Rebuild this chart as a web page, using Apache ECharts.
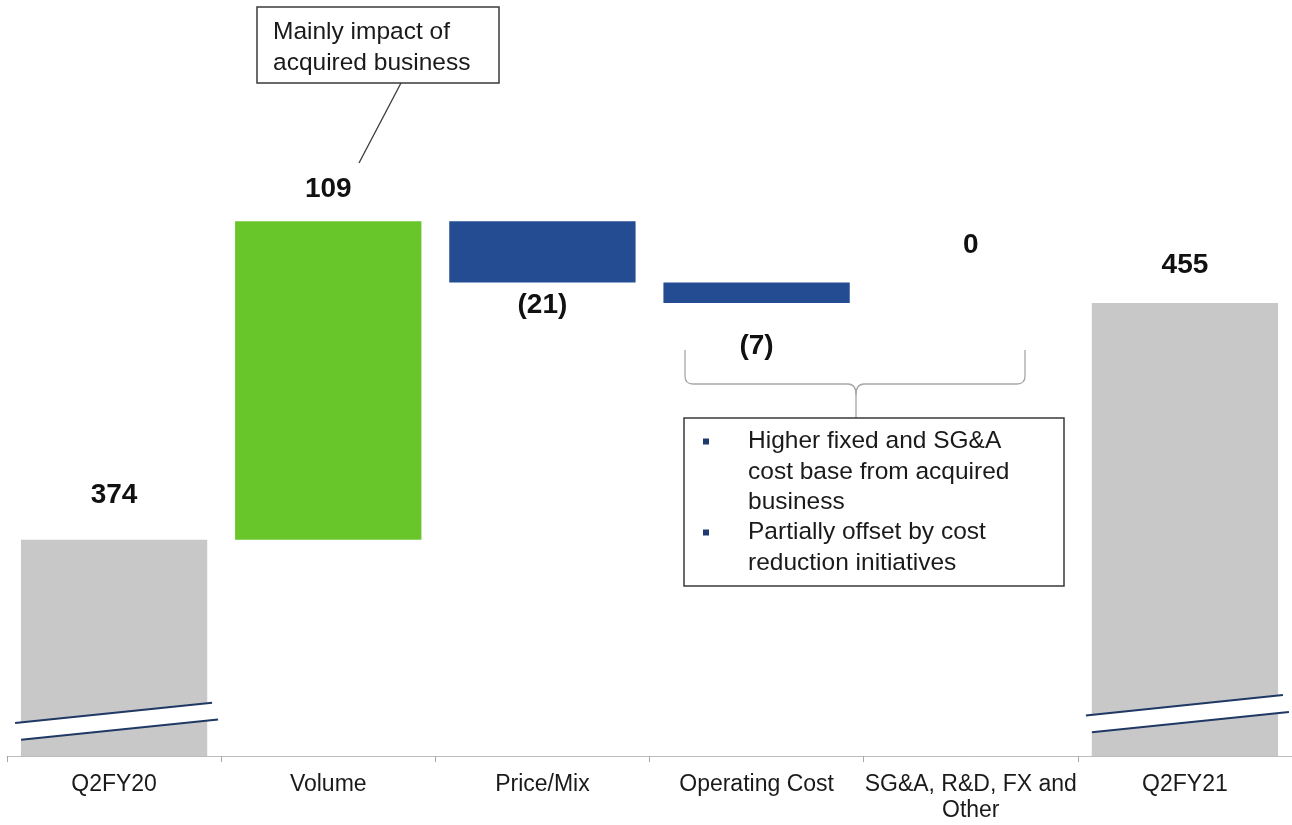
<!DOCTYPE html>
<html>
<head>
<meta charset="utf-8">
<script src="https://cdn.jsdelivr.net/npm/echarts@6/dist/echarts.min.js"></script>
<style>
  html, body { margin: 0; padding: 0; background: #ffffff; }
  #chart { width: 1292px; height: 825px; }
</style>
</head>
<body>
<div id="chart"></div>
<script>
// Bridge from Q2FY20 to Q2FY21
const categories = ['Q2FY20', 'Volume', 'Price/Mix', 'Operating Cost', 'SG&A, R&D, FX and\nOther', 'Q2FY21'];
const openingTotal = 374;
const bridgeChanges = [109, -21, -7, 0];
const closingTotal = 455;

// Value axis is cut below this level (break marks on the total bars)
const axisMin = 300;
const axisMax = 520;

const FONT = '"Liberation Sans", Arial, Helvetica, sans-serif';
const COLORS = { total: '#c8c8c8', up: '#68c62a', down: '#234c93', flat: '#234c93' };

// Waterfall: an invisible base bar carries each visible step
const baseVals = [0];
const stepVals = [openingTotal];
const kinds = ['total'];
const shownVals = [openingTotal];
let running = openingTotal;
bridgeChanges.forEach(c => {
  const next = running + c;
  baseVals.push(Math.min(running, next));
  stepVals.push(Math.abs(c));
  kinds.push(c > 0 ? 'up' : (c < 0 ? 'down' : 'flat'));
  shownVals.push(c);
  running = next;
});
baseVals.push(0);
stepVals.push(closingTotal);
kinds.push('total');
shownVals.push(closingTotal);

// spacing between each bar end and its value label
const labelGap = [29, 17, 8, 28, 43, 23];

const chart = echarts.init(document.getElementById('chart'));

chart.setOption({
  animation: false,
  backgroundColor: '#ffffff',
  grid: { left: 7, width: 1287, top: 113, bottom: 69, containLabel: false },
  xAxis: {
    type: 'category',
    data: categories,
    axisLine: { show: true, lineStyle: { color: '#bcbcbc', width: 1 } },
    axisTick: { show: true, length: 6, lineStyle: { color: '#a8a8a8' } },
    axisLabel: {
      interval: 0,
      margin: 16,
      color: '#1a1a1a',
      fontFamily: FONT,
      fontSize: 23,
      lineHeight: 26,
      align: 'center'
    }
  },
  yAxis: {
    type: 'value',
    min: axisMin,
    max: axisMax,
    show: false,
    splitLine: { show: false }
  },
  series: [
    {
      type: 'bar',
      stack: 'bridge',
      silent: true,
      barCategoryGap: '13%',
      itemStyle: { color: 'rgba(0,0,0,0)' },
      data: baseVals
    },
    {
      type: 'bar',
      stack: 'bridge',
      barCategoryGap: '13%',
      clip: true,
      data: stepVals.map((v, i) => ({
        value: v,
        itemStyle: { color: COLORS[kinds[i]] },
        label: {
          show: true,
          position: kinds[i] === 'down' ? 'bottom' : 'top',
          distance: labelGap[i],
          formatter: () => shownVals[i] < 0 ? '(' + (-shownVals[i]) + ')' : String(shownVals[i]),
          color: '#111111',
          fontFamily: FONT,
          fontWeight: 'bold',
          fontSize: 28,
          lineHeight: 30
        }
      }))
    }
  ]
});

// Break marks across the two total bars (value where the axis is cut)
const breakAt = [{ idx: 0, value: 311.8 }, { idx: categories.length - 1, value: 314.4 }];
const SLOPE = -0.103;
const HALF_GAP = 8.7;
const graphics = [];
breakAt.forEach(b => {
  const p = chart.convertToPixel({ xAxisIndex: 0, yAxisIndex: 0 }, [b.idx, b.value]);
  const cx = p[0], cy = p[1];
  const up = x => cy - HALF_GAP + (x - cx) * SLOPE;
  const lo = x => cy + HALF_GAP + (x - cx) * SLOPE;
  const uL = cx - 99, uR = cx + 98, lL = cx - 93, lR = cx + 104;
  graphics.push({
    type: 'polygon', z: 100, silent: true,
    shape: { points: [[uL, up(uL)], [uR, up(uR)], [lR, lo(lR)], [lL, lo(lL)]] },
    style: { fill: '#ffffff' }
  });
  graphics.push({
    type: 'line', z: 101, silent: true,
    shape: { x1: uL, y1: up(uL), x2: uR, y2: up(uR) },
    style: { stroke: '#1f3864', lineWidth: 2 }
  });
  graphics.push({
    type: 'line', z: 101, silent: true,
    shape: { x1: lL, y1: lo(lL), x2: lR, y2: lo(lR) },
    style: { stroke: '#1f3864', lineWidth: 2 }
  });
});

// Callout for the volume step
graphics.push({
  type: 'rect', z: 100, silent: true,
  shape: { x: 257, y: 7, width: 242, height: 76 },
  style: { fill: '#ffffff', stroke: '#3a3a3a', lineWidth: 1.5 }
});
graphics.push({
  type: 'text', z: 101, silent: true,
  x: 273, y: 16.5,
  style: {
    text: 'Mainly impact of\nacquired business',
    font: '24.5px ' + FONT, fill: '#1a1a1a', lineHeight: 31,
    verticalAlign: 'top', align: 'left'
  }
});
graphics.push({
  type: 'line', z: 100, silent: true,
  shape: { x1: 401, y1: 83, x2: 359, y2: 163 },
  style: { stroke: '#3a3a3a', lineWidth: 1.3 }
});

// Brace grouping Operating Cost and SG&A
const braceStyle = { stroke: '#a6a6a6', lineWidth: 1.3, fill: null };
const braceParts = [
  { type: 'line', shape: { x1: 685, y1: 350, x2: 685, y2: 376 } },
  { type: 'bezierCurve', shape: { x1: 685, y1: 376, cpx1: 685, cpy1: 384, x2: 693, y2: 384 } },
  { type: 'line', shape: { x1: 693, y1: 384, x2: 848, y2: 384 } },
  { type: 'bezierCurve', shape: { x1: 848, y1: 384, cpx1: 856, cpy1: 384, x2: 856, y2: 395 } },
  { type: 'line', shape: { x1: 856, y1: 395, x2: 856, y2: 418 } },
  { type: 'bezierCurve', shape: { x1: 864, y1: 384, cpx1: 856, cpy1: 384, x2: 856, y2: 395 } },
  { type: 'line', shape: { x1: 864, y1: 384, x2: 1017, y2: 384 } },
  { type: 'bezierCurve', shape: { x1: 1017, y1: 384, cpx1: 1025, cpy1: 384, x2: 1025, y2: 376 } },
  { type: 'line', shape: { x1: 1025, y1: 376, x2: 1025, y2: 350 } }
];
braceParts.forEach(p => graphics.push(Object.assign({ z: 100, silent: true, style: braceStyle }, p)));

// Commentary box with bullets
graphics.push({
  type: 'rect', z: 100, silent: true,
  shape: { x: 684, y: 418, width: 380, height: 168 },
  style: { fill: '#ffffff', stroke: '#3a3a3a', lineWidth: 1.5 }
});
[{ y: 441.5, text: 'Higher fixed and SG&A\ncost base from acquired\nbusiness' },
 { y: 532.5, text: 'Partially offset by cost\nreduction initiatives' }].forEach(b => {
  graphics.push({
    type: 'rect', z: 101, silent: true,
    shape: { x: 703, y: b.y - 3, width: 6, height: 6 },
    style: { fill: '#1f3a6e' }
  });
  graphics.push({
    type: 'text', z: 101, silent: true,
    x: 748, y: b.y - 15.25,
    style: {
      text: b.text,
      font: '24.5px ' + FONT, fill: '#1a1a1a', lineHeight: 30.5,
      verticalAlign: 'top', align: 'left'
    }
  });
});

chart.setOption({ graphic: { elements: graphics } });
</script>
</body>
</html>
